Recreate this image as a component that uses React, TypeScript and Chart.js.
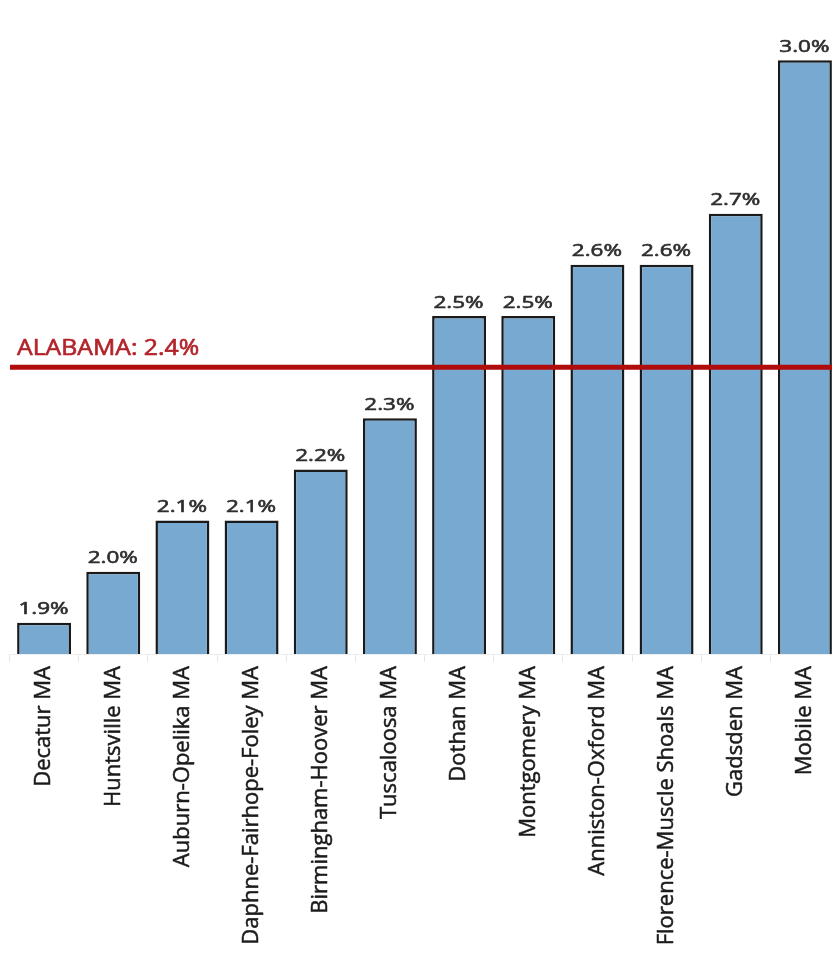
import React, { useEffect, useRef } from 'react';
import { Chart, registerables } from 'chart.js';

Chart.register(...registerables);

const categories = [
  'Decatur MA',
  'Huntsville MA',
  'Auburn-Opelika MA',
  'Daphne-Fairhope-Foley MA',
  'Birmingham-Hoover MA',
  'Tuscaloosa MA',
  'Dothan MA',
  'Montgomery MA',
  'Anniston-Oxford MA',
  'Florence-Muscle Shoals MA',
  'Gadsden MA',
  'Mobile MA',
];
const values = [1.9, 2.0, 2.1, 2.1, 2.2, 2.3, 2.5, 2.5, 2.6, 2.6, 2.7, 3.0];
const stateLabel = 'ALABAMA';
const stateValue = 2.4;
const yMin = 1.839;
const yMax = 3.118;

const CANVAS_W = 841;
const CANVAS_H = 959;
const PLOT_BOTTOM = 654;

export default function App() {
  const ref = useRef<HTMLCanvasElement>(null);

  useEffect(() => {
    const canvas = ref.current;
    if (!canvas) return;

    const overlay = {
      id: 'overlay',
      afterDatasetsDraw(chart: any) {
        const ctx = chart.ctx;
        const meta = chart.getDatasetMeta(0);
        const yScale = chart.scales.y;
        ctx.save();
        // value labels
        ctx.font = '17px "Open Sans"';
        ctx.fillStyle = '#2e2e2e';
        ctx.strokeStyle = '#2e2e2e';
        ctx.lineWidth = 0.6;
        ctx.lineJoin = 'round';
        ctx.textAlign = 'center';
        ctx.textBaseline = 'alphabetic';
        meta.data.forEach((bar: any, i: number) => {
          const txt = values[i].toFixed(1) + '%';
          ctx.save();
          ctx.translate(bar.x - 0.5, bar.y - 8.5);
          ctx.scale(1.32, 1);
          ctx.fillText(txt, 0, 0);
          ctx.strokeText(txt, 0, 0);
          ctx.restore();
        });
        // state average line
        const yy = yScale.getPixelForValue(stateValue);
        ctx.strokeStyle = '#b00c0c';
        ctx.lineWidth = 5;
        ctx.lineCap = 'butt';
        ctx.beginPath();
        ctx.moveTo(10, yy);
        ctx.lineTo(CANVAS_W, yy);
        ctx.stroke();
        // state label
        ctx.font = '21px "Open Sans"';
        ctx.fillStyle = '#b3242a';
        ctx.strokeStyle = '#b3242a';
        ctx.lineWidth = 0.6;
        ctx.textAlign = 'left';
        ctx.save();
        ctx.translate(17, yy - 12.5);
        ctx.scale(1.18, 1);
        const st = stateLabel + ': ' + stateValue.toFixed(1) + '%';
        ctx.fillText(st, 0, 0);
        ctx.strokeText(st, 0, 0);
        ctx.restore();
        ctx.restore();
      },
    };

    const chart = new Chart(canvas, {
      type: 'bar',
      data: {
        labels: categories,
        datasets: [
          {
            data: values,
            backgroundColor: '#77a9d1',
            borderColor: '#1a1a1a',
            borderWidth: 2.5,
            borderSkipped: 'start',
            barPercentage: 0.78,
            categoryPercentage: 1,
          },
        ],
      },
      options: {
        responsive: true,
        maintainAspectRatio: false,
        animation: false,
        devicePixelRatio: 1,
        layout: { padding: { left: 9.5, right: 1.5, top: 0, bottom: 0 } },
        plugins: {
          legend: { display: false },
          tooltip: { enabled: false },
        },
        scales: {
          x: {
            offset: true,
            grid: {
              offset: true,
              drawOnChartArea: false,
              drawTicks: true,
              tickLength: 8,
              color: '#e6e6e6',
              lineWidth: 1,
            },
            border: { display: true, color: '#eeeeee', width: 1 },
            ticks: {
              autoSkip: false,
              minRotation: 90,
              maxRotation: 90,
              padding: 4,
              color: '#1a1a1a',
              textStrokeColor: '#1a1a1a',
              textStrokeWidth: 0.5,
              font: { family: '"Open Sans"', size: 22 },
            },
            afterFit: (scale: any) => {
              scale.height = CANVAS_H - PLOT_BOTTOM;
            },
          },
          y: {
            display: false,
            min: yMin,
            max: yMax,
          },
        },
      },
      plugins: [overlay],
    });

    return () => chart.destroy();
  }, []);

  return (
    <div
      style={{
        position: 'fixed',
        left: 0,
        top: 0,
        width: 832,
        height: CANVAS_H,
        overflow: 'hidden',
        background: '#ffffff',
      }}
    >
      <div style={{ position: 'relative', width: CANVAS_W, height: CANVAS_H }}>
        <canvas ref={ref} />
      </div>
    </div>
  );
}
